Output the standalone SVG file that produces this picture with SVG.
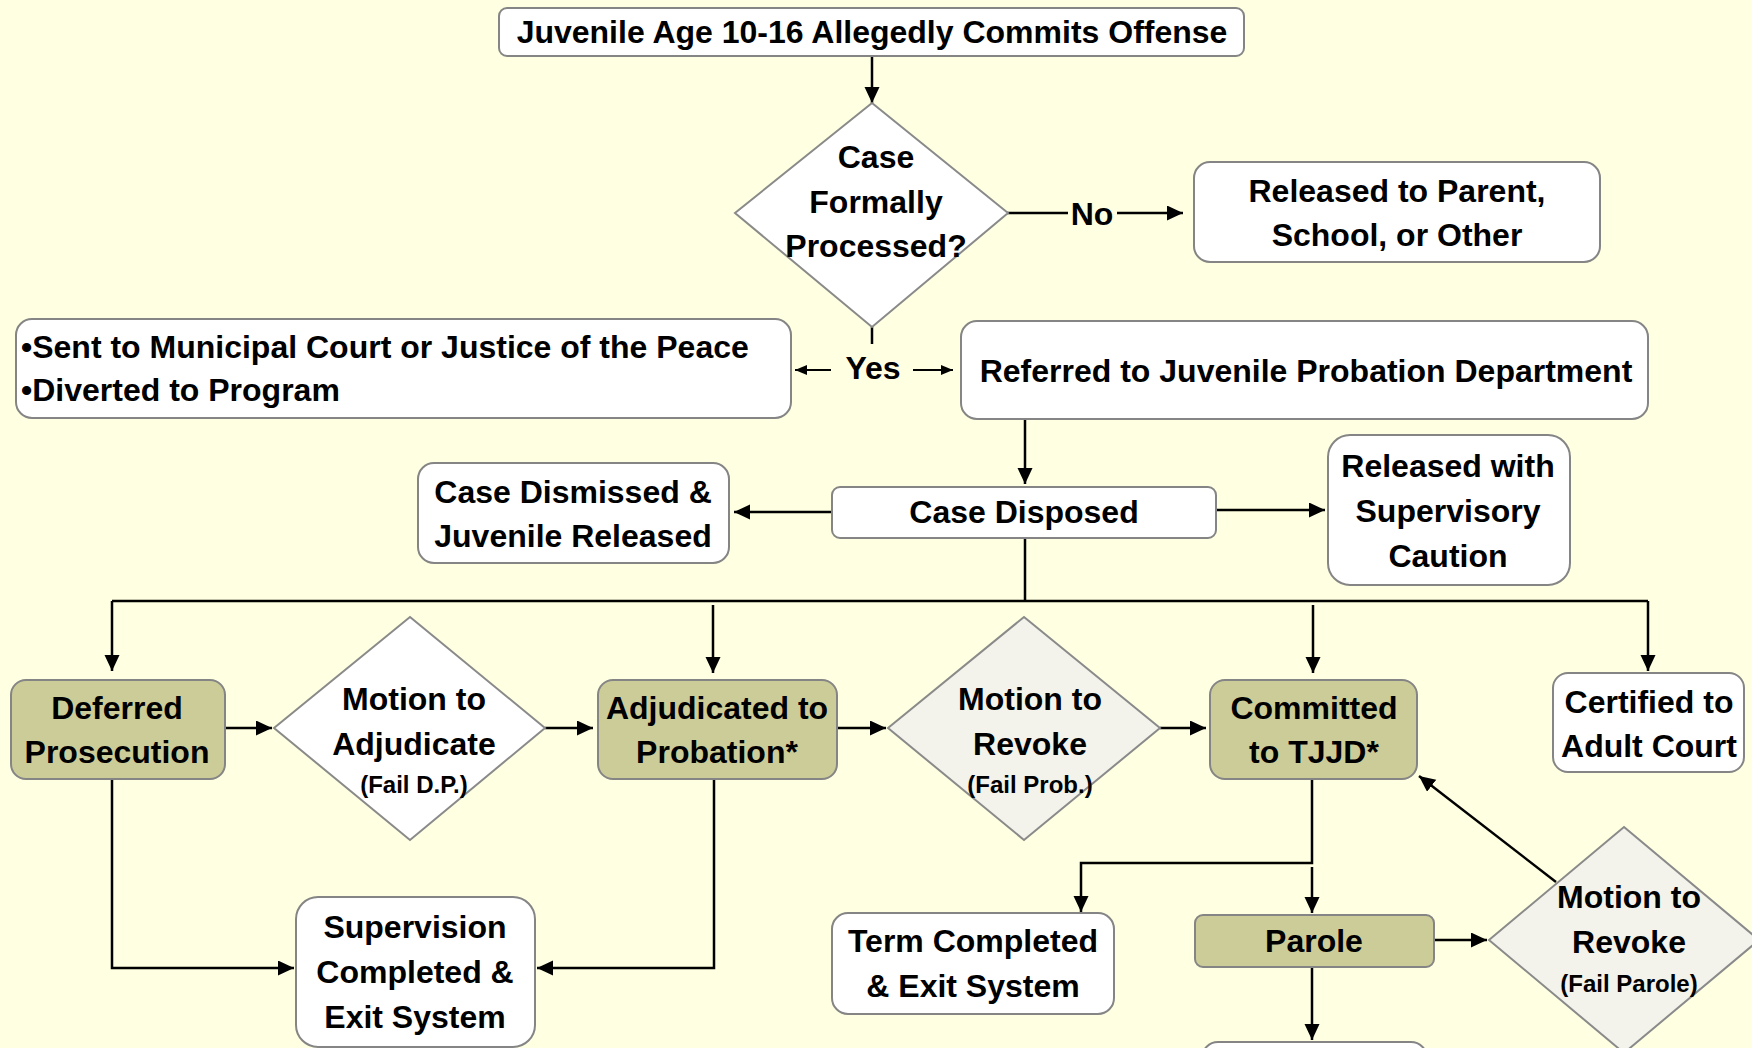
<svg xmlns="http://www.w3.org/2000/svg" width="1752" height="1048" viewBox="0 0 1752 1048">
<defs>
<style>
.bg{fill:#FFFFE1}
.box{fill:#FFFFFF;stroke:#858585;stroke-width:2}
.olive{fill:#CCCC99;stroke:#858585;stroke-width:2}
.dia{fill:#FFFFFF;stroke:#8A8A8A;stroke-width:2}
.dia2{fill:#F3F3EC;stroke:#8A8A8A;stroke-width:2}
.t{font-family:"Liberation Sans",Arial,sans-serif;font-weight:bold;font-size:32px;fill:#000;text-anchor:middle}
.s{font-family:"Liberation Sans",Arial,sans-serif;font-weight:bold;font-size:24px;fill:#000;text-anchor:middle}
.l{text-anchor:start}
.c{fill:none;stroke:#000;stroke-width:2.5}
.a{marker-end:url(#ah)}
.y{fill:none;stroke:#000;stroke-width:2.2;marker-end:url(#ahs)}
</style>
<marker id="ah" markerUnits="userSpaceOnUse" markerWidth="17" markerHeight="16" refX="16" refY="7.5" orient="auto">
<path d="M0,0 L16,7.5 L0,15 z" fill="#000"/>
</marker>
<marker id="ahs" markerUnits="userSpaceOnUse" markerWidth="13" markerHeight="11" refX="12" refY="5" orient="auto">
<path d="M0,0 L12,5 L0,10 z" fill="#000"/>
</marker>
</defs>
<rect class="bg" x="0" y="0" width="1752" height="1048"/>

<g id="connectors">
<path class="c a" d="M872,56 V103"/>
<path class="c" d="M1007,213 H1068"/>
<path class="c a" d="M1117,213 H1183"/>
<path class="c" d="M872,327 V344"/>
<path class="y" d="M831,370 H795"/>
<path class="y" d="M913,370 H953"/>
<path class="c a" d="M1025,419 V484"/>
<path class="c a" d="M832,512 H734"/>
<path class="c a" d="M1216,510 H1325"/>
<path class="c" d="M1025,538 V601 M112,601 H1648"/>
<path class="c a" d="M112,601 V671"/>
<path class="c a" d="M713,605 V673"/>
<path class="c a" d="M1313,605 V673"/>
<path class="c a" d="M1648,601 V671"/>
<path class="c a" d="M225,728 H272"/>
<path class="c a" d="M545,728 H593"/>
<path class="c a" d="M837,728 H886"/>
<path class="c a" d="M1160,728 H1206"/>
<path class="c a" d="M112,779 V968 H294"/>
<path class="c a" d="M714,779 V968 H537"/>
<path class="c a" d="M1312,779 V863 H1081 V912"/>
<path class="c a" d="M1312,867 V913"/>
<path class="c a" d="M1312,967 V1040"/>
<path class="c a" d="M1434,940 H1487"/>
<path class="c a" d="M1556,882 L1419,776"/>
</g>

<g id="n-start">
<rect class="box" x="499" y="8" width="745" height="48" rx="8"/>
<text class="t" x="872" y="43">Juvenile Age 10-16 Allegedly Commits Offense</text>
</g>

<g id="n-formal">
<polygon class="dia" points="872,103 1008,213 872,327 735,213"/>
<text class="t" x="876" y="168">Case</text>
<text class="t" x="876" y="213">Formally</text>
<text class="t" x="876" y="257">Processed?</text>
</g>

<g id="l-no"><text class="t" x="1092" y="225">No</text></g>
<g id="l-yes"><text class="t" x="873" y="379">Yes</text></g>

<g id="n-released">
<rect class="box" x="1194" y="162" width="406" height="100" rx="16"/>
<text class="t" x="1397" y="202">Released to Parent,</text>
<text class="t" x="1397" y="246">School, or Other</text>
</g>

<g id="n-municipal">
<rect class="box" x="16" y="319" width="775" height="99" rx="16"/>
<text class="t l" x="21" y="358">•Sent to Municipal Court or Justice of the Peace</text>
<text class="t l" x="21" y="401">•Diverted to Program</text>
</g>

<g id="n-referred">
<rect class="box" x="961" y="321" width="687" height="98" rx="16"/>
<text class="t" x="1306" y="382">Referred to Juvenile Probation Department</text>
</g>

<g id="n-disposed">
<rect class="box" x="832" y="487" width="384" height="51" rx="8"/>
<text class="t" x="1024" y="523">Case Disposed</text>
</g>

<g id="n-dismissed">
<rect class="box" x="418" y="463" width="311" height="100" rx="16"/>
<text class="t" x="573" y="503">Case Dismissed &amp;</text>
<text class="t" x="573" y="547">Juvenile Released</text>
</g>

<g id="n-caution">
<rect class="box" x="1328" y="435" width="242" height="150" rx="22"/>
<text class="t" x="1448" y="477">Released with</text>
<text class="t" x="1448" y="522">Supervisory</text>
<text class="t" x="1448" y="567">Caution</text>
</g>

<g id="n-deferred">
<rect class="olive" x="11" y="680" width="214" height="99" rx="15"/>
<text class="t" x="117" y="719">Deferred</text>
<text class="t" x="117" y="763">Prosecution</text>
</g>

<g id="n-mta">
<polygon class="dia" points="410,617 545,728 410,840 274,728"/>
<text class="t" x="414" y="710">Motion to</text>
<text class="t" x="414" y="755">Adjudicate</text>
<text class="s" x="414" y="793">(Fail D.P.)</text>
</g>

<g id="n-probation">
<rect class="olive" x="598" y="680" width="239" height="99" rx="15"/>
<text class="t" x="717" y="719">Adjudicated to</text>
<text class="t" x="717" y="763">Probation*</text>
</g>

<g id="n-mtr1">
<polygon class="dia2" points="1024,617 1160,728 1024,840 888,728"/>
<text class="t" x="1030" y="710">Motion to</text>
<text class="t" x="1030" y="755">Revoke</text>
<text class="s" x="1030" y="793">(Fail Prob.)</text>
</g>

<g id="n-tjjd">
<rect class="olive" x="1210" y="680" width="207" height="99" rx="15"/>
<text class="t" x="1314" y="719">Committed</text>
<text class="t" x="1314" y="763">to TJJD*</text>
</g>

<g id="n-adult">
<rect class="box" x="1553" y="673" width="191" height="99" rx="15"/>
<text class="t" x="1649" y="713">Certified to</text>
<text class="t" x="1649" y="757">Adult Court</text>
</g>

<g id="n-term">
<rect class="box" x="832" y="913" width="282" height="101" rx="16"/>
<text class="t" x="973" y="952">Term Completed</text>
<text class="t" x="973" y="997">&amp; Exit System</text>
</g>

<g id="n-parole">
<rect class="olive" x="1195" y="915" width="239" height="52" rx="8"/>
<text class="t" x="1314" y="952">Parole</text>
</g>

<g id="n-mtr2">
<polygon class="dia2" points="1624,827 1759,940 1624,1053 1489,940"/>
<text class="t" x="1629" y="908">Motion to</text>
<text class="t" x="1629" y="953">Revoke</text>
<text class="s" x="1629" y="992">(Fail Parole)</text>
</g>

<g id="n-supervision">
<rect class="box" x="296" y="897" width="239" height="150" rx="22"/>
<text class="t" x="415" y="938">Supervision</text>
<text class="t" x="415" y="983">Completed &amp;</text>
<text class="t" x="415" y="1028">Exit System</text>
</g>

<g id="n-next">
<rect class="box" x="1202" y="1042" width="225" height="60" rx="16"/>
</g>
</svg>
